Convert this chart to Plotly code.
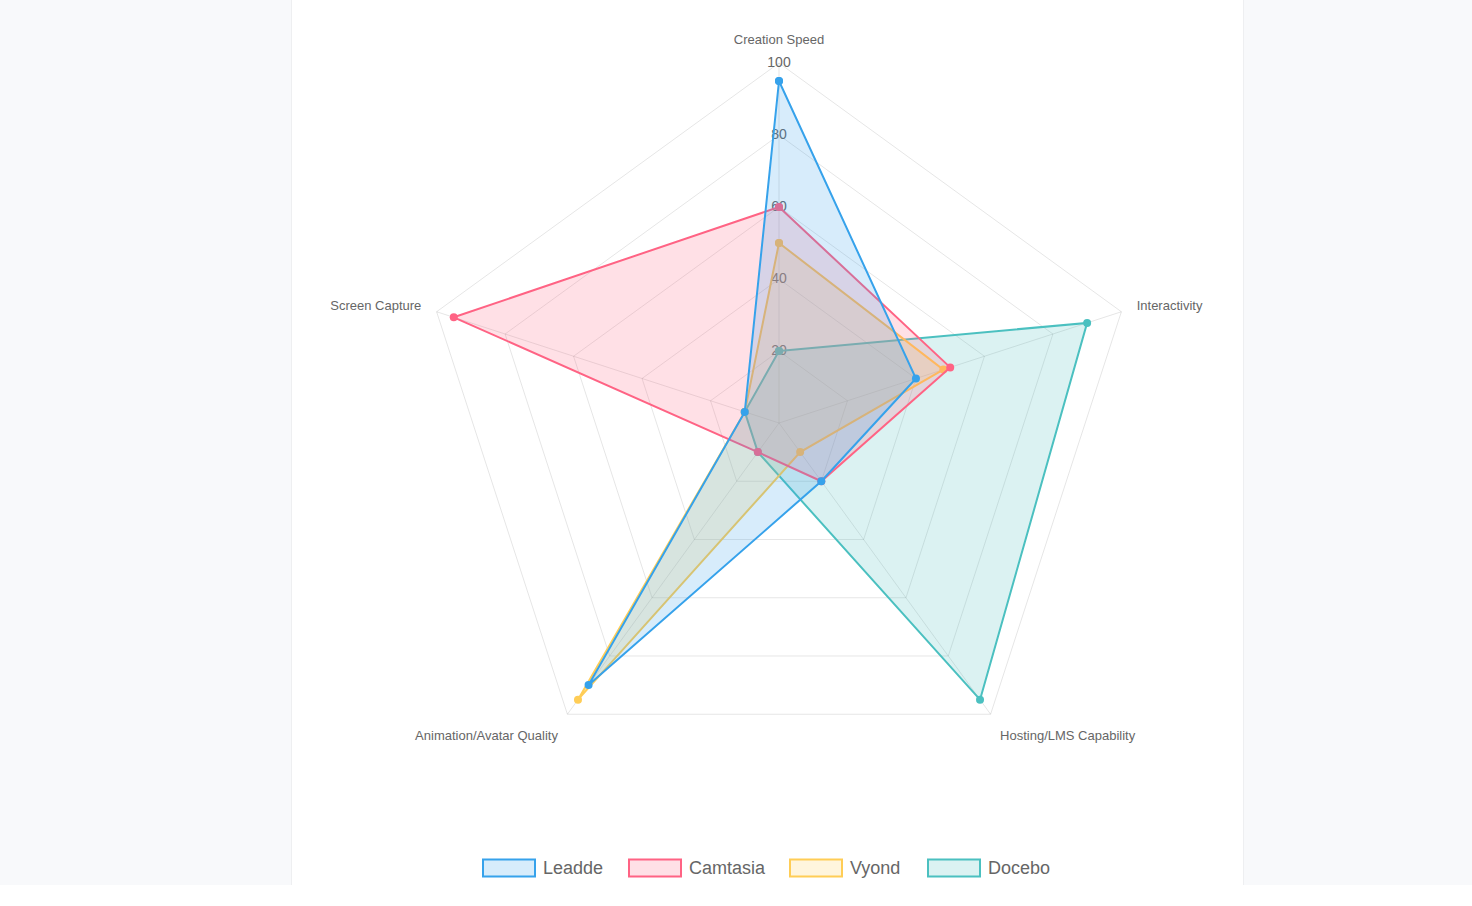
import plotly.graph_objects as go

categories = ["Creation Speed", "Interactivity", "Hosting/LMS Capability",
              "Animation/Avatar Quality", "Screen Capture"]
series_names = ["Leadde", "Camtasia", "Vyond", "Docebo"]
leadde = [95, 40, 20, 90, 10]
camtasia = [60, 50, 20, 10, 95]
vyond = [50, 48, 10, 95, 10]
docebo = [20, 90, 95, 10, 10]
tick_values = [20, 40, 60, 80, 100]
tick_labels = ["20", "40", "60", "80", "100"]

series_values = [leadde, camtasia, vyond, docebo]
line_colors = ["rgb(54,162,235)", "rgb(255,99,132)", "rgb(255,205,86)", "rgb(75,192,192)"]
fill_colors = ["rgba(54,162,235,0.2)", "rgba(255,99,132,0.2)",
               "rgba(255,205,86,0.2)", "rgba(75,192,192,0.2)"]

W, H = 1472, 906
FONT = "Liberation Sans, Arial, Helvetica, sans-serif"

fig = go.Figure()

# radial tick labels drawn on the top axis (under the data)
fig.add_trace(go.Scatterpolar(
    r=tick_values, theta=[categories[0]] * len(tick_values),
    text=tick_labels, mode="text",
    textfont=dict(size=14, color="#666", family=FONT),
    textposition="middle center", showlegend=False, hoverinfo="skip"))

# draw in reverse so first dataset is on top (Chart.js style)
for name, vals, lc, fc in reversed(list(zip(series_names, series_values, line_colors, fill_colors))):
    fig.add_trace(go.Scatterpolar(
        r=vals + vals[:1], theta=categories + categories[:1],
        name=name, mode="lines+markers", fill="toself", fillcolor=fc,
        line=dict(color=lc, width=2),
        marker=dict(color=lc, size=8),
        showlegend=False))

cx, cy, R = 779, 423, 360
dom_x = [(cx - R) / W, (cx + R) / W]
dom_y = [1 - (cy + R) / H, 1 - (cy - R) / H]

shapes = [
    dict(type="rect", xref="paper", yref="paper", x0=292 / W, x1=1243 / W,
         y0=1 - 885 / H, y1=1, fillcolor="white", line=dict(width=0), layer="below"),
    dict(type="rect", xref="paper", yref="paper", x0=0, x1=1,
         y0=0, y1=1 - 885 / H, fillcolor="white", line=dict(width=0), layer="below"),
    dict(type="line", xref="paper", yref="paper", x0=291.5 / W, x1=291.5 / W,
         y0=1 - 885 / H, y1=1, line=dict(color="#eeeff1", width=1), layer="below"),
    dict(type="line", xref="paper", yref="paper", x0=1243.5 / W, x1=1243.5 / W,
         y0=1 - 885 / H, y1=1, line=dict(color="#eeeff1", width=1), layer="below"),
]
annotations = []

# custom legend
legend_x = [483, 629, 790, 928]
box_w, box_h = 52, 17
ly = 868
for i, name in enumerate(series_names):
    x0 = legend_x[i]
    shapes.append(dict(type="rect", xref="paper", yref="paper",
                       x0=x0 / W, x1=(x0 + box_w) / W,
                       y0=1 - (ly + box_h / 2) / H, y1=1 - (ly - box_h / 2) / H,
                       fillcolor=fill_colors[i], line=dict(color=line_colors[i], width=2)))
    annotations.append(dict(xref="paper", yref="paper", x=(x0 + box_w + 6) / W,
                            y=1 - ly / H, text=name, showarrow=False,
                            xanchor="left", yanchor="middle",
                            font=dict(size=18, color="#666", family=FONT)))

fig.update_layout(
    width=W, height=H,
    margin=dict(l=0, r=0, t=0, b=0),
    paper_bgcolor="#f8f9fb",
    plot_bgcolor="white",
    showlegend=False,
    font=dict(family=FONT, color="#666"),
    shapes=shapes,
    annotations=annotations,
    polar=dict(
        domain=dict(x=dom_x, y=dom_y),
        bgcolor="rgba(0,0,0,0)",
        gridshape="linear",
        radialaxis=dict(range=[0, 100], tickvals=tick_values, showticklabels=False,
                        showline=False, ticks="", gridcolor="rgba(0,0,0,0.1)",
                        gridwidth=1, angle=90),
        angularaxis=dict(direction="clockwise", rotation=90, ticks="outside",
                         ticklen=13, tickcolor="rgba(0,0,0,0)",
                         showline=True, linecolor="rgba(0,0,0,0.1)", linewidth=1,
                         gridcolor="rgba(0,0,0,0.1)",
                         tickfont=dict(size=13, color="#666", family=FONT)),
    ),
)

fig.write_html("out.html", config={"displayModeBar": False},
               post_script="document.body.style.margin='0';document.body.style.padding='0';")
